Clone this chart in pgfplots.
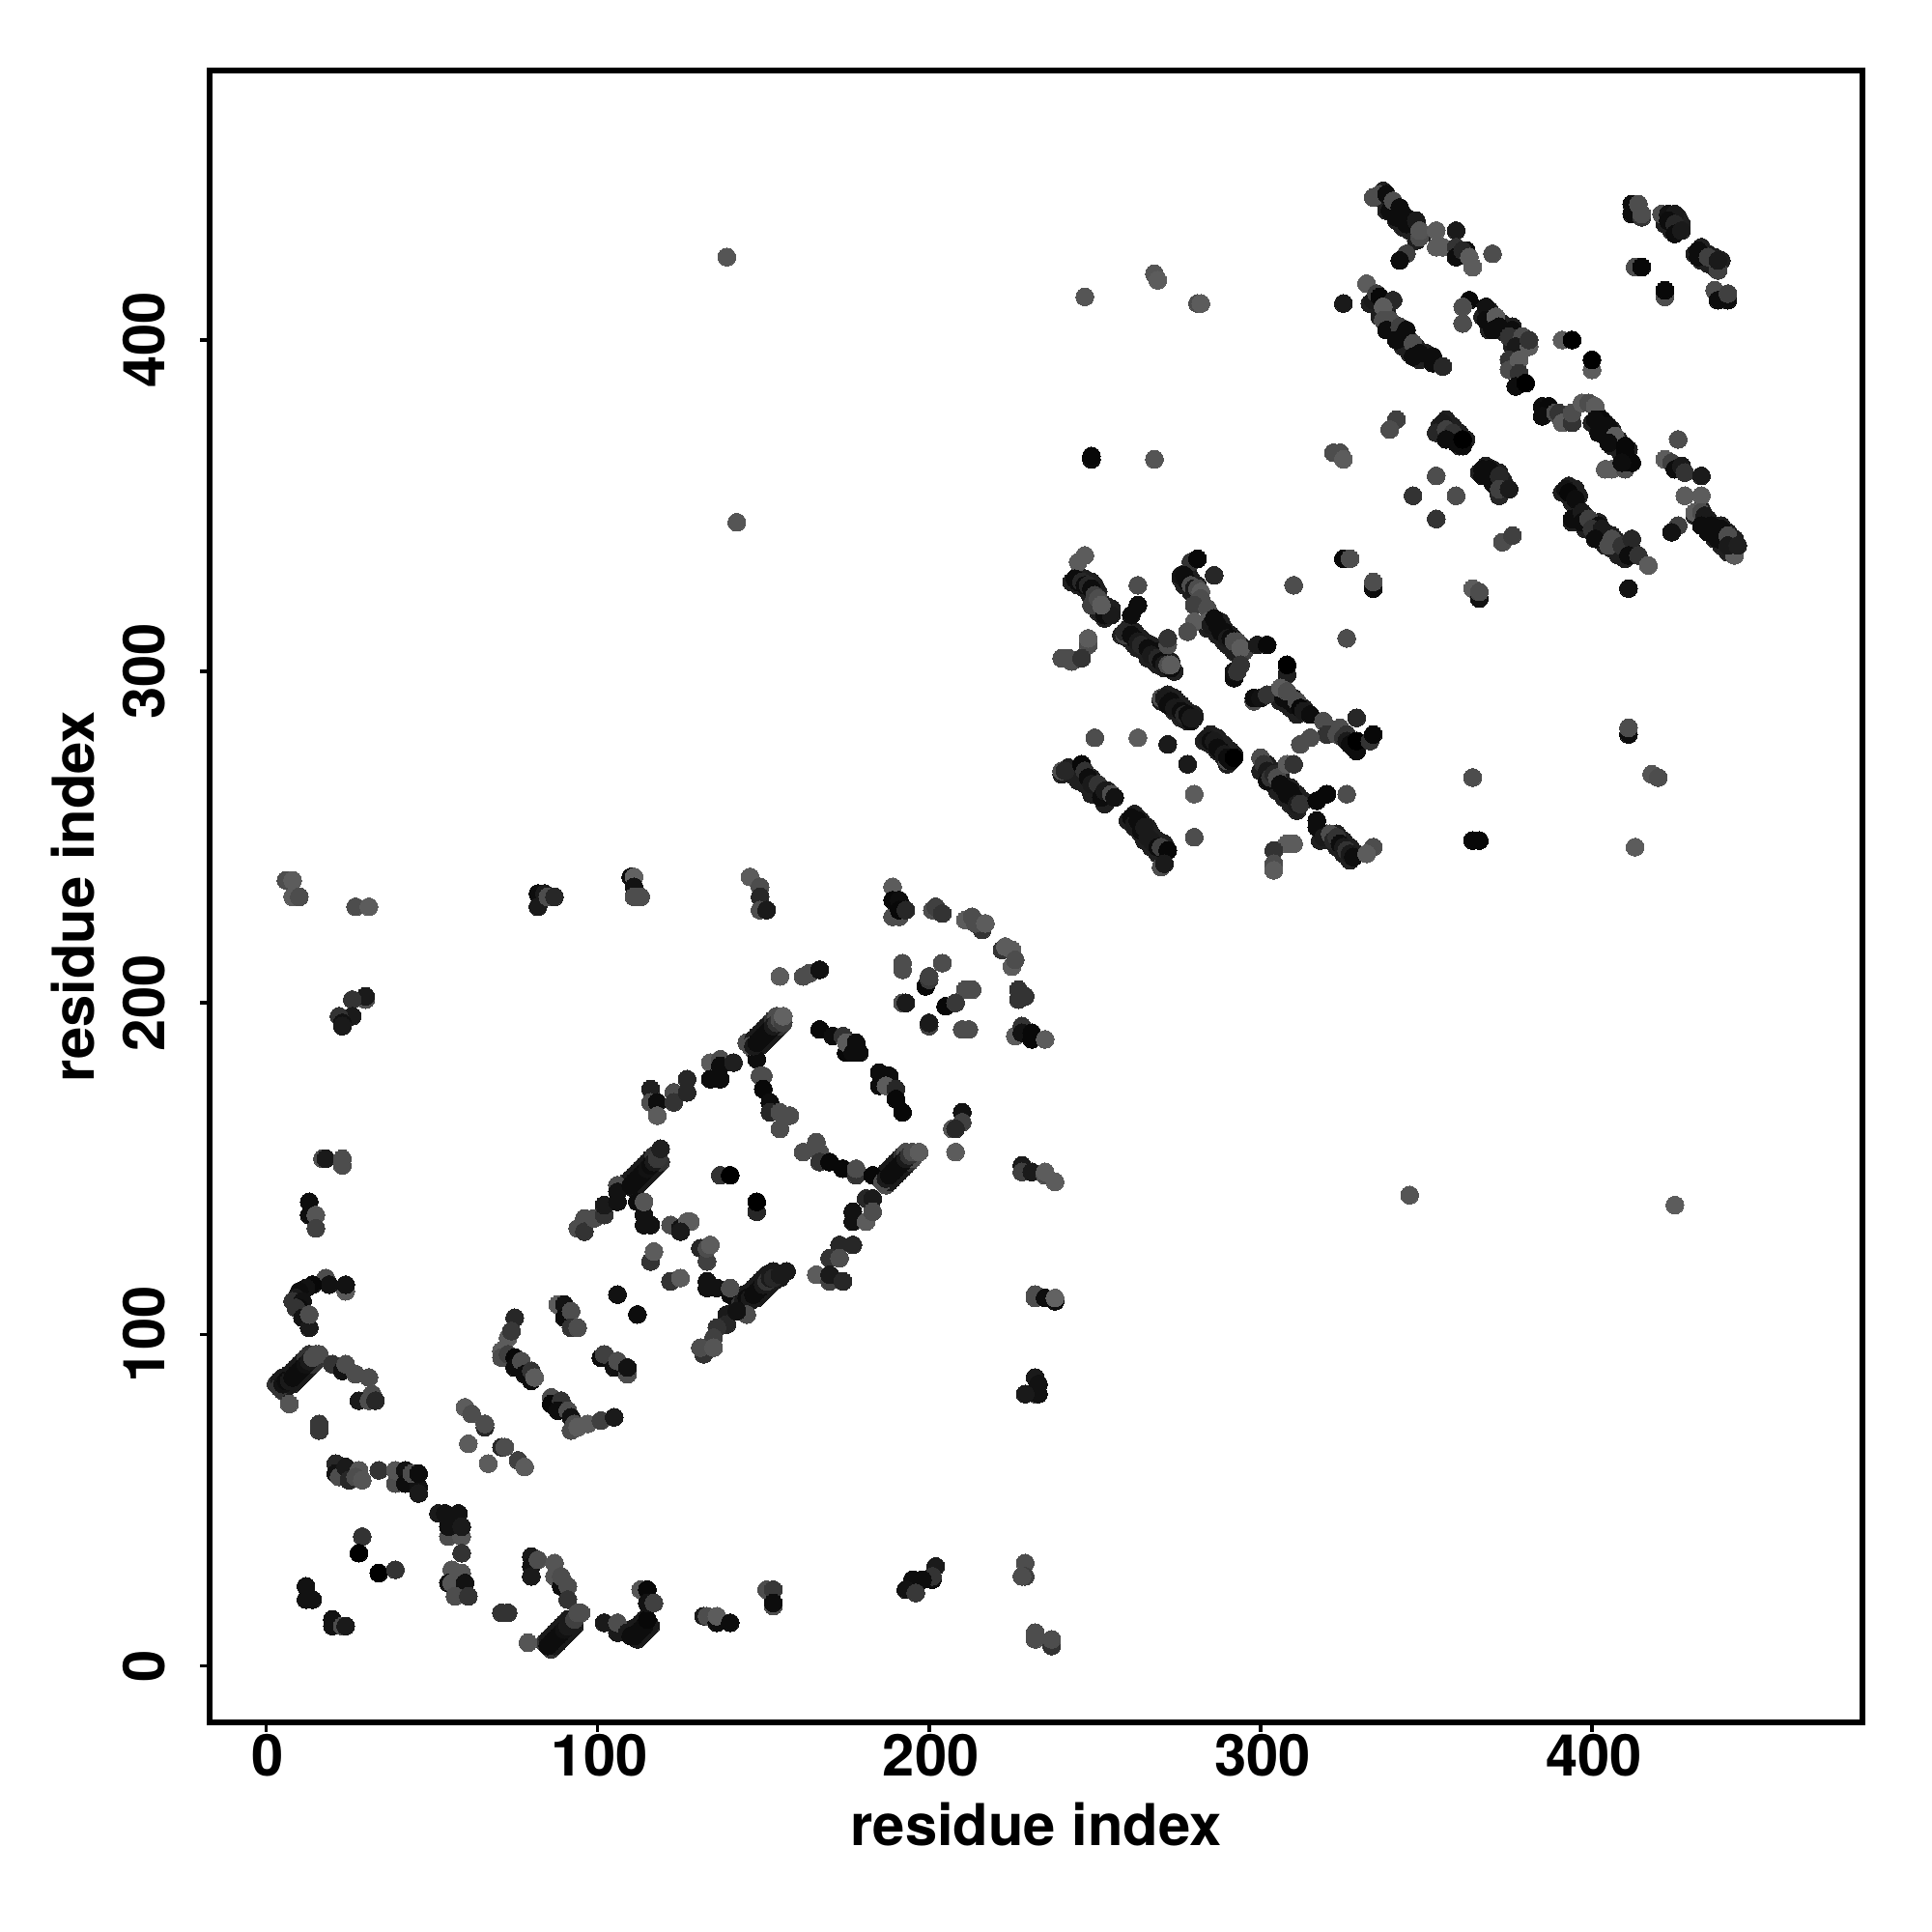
\documentclass[border=0pt]{standalone}
\usepackage{pgfplots}
\pgfplotsset{compat=1.18}
\usepackage{fontspec}
\setmainfont{TeX Gyre Heros}
\begin{document}
\begin{tikzpicture}
\useasboundingbox (0,0) rectangle (20cm,20cm);
\begin{axis}[
  at={(2.17cm,2.17cm)},anchor=south west,
  scale only axis,width=17.11cm,height=17.10cm,
  xmin=-17.05,xmax=481.6,ymin=-17.05,ymax=481.3,
  xtick={0,100,200,300,400},ytick={0,100,200,300,400},
  tick align=outside,tick pos=left,
  major tick length=0.1cm,
  axis line style={line width=0.06cm,black},
  every tick/.style={line width=0.035cm,black},
  /pgf/number format/assume math mode=true,
  tick label style={font=\fontsize{17}{20}\selectfont\bfseries},
  xticklabel style={yshift=0.10cm,xshift=0.02cm},
  yticklabel style={rotate=90,anchor=south,yshift=0.24cm},
  label style={font=\fontsize{17}{20}\selectfont\bfseries},
  xlabel={residue index},ylabel={residue index},
  xlabel style={at={(rel axis cs:0.5,0)},anchor=base,yshift=-1.275cm},
  ylabel style={at={(rel axis cs:0,0.5)},anchor=base,yshift=1.19cm},
  colormap={grays}{gray(0cm)=(0);gray(1cm)=(1)},
  point meta min=0,point meta max=1,
]
\addplot[scatter,only marks,mark=*,mark size=0.0925cm,scatter src=explicit,
  mark options={line width=0pt},
  scatter/use mapped color={draw=mapped color,fill=mapped color}]
 table[x=x,y=y,meta=g,row sep=\\]{
x y g\\
3 85 .2\\ 5 83 .2\\ 4 86 .1\\ 6 84 .1\\ 5 87 .1\\ 7 85 .1\\ 6 87 .1\\ 8 85 .1\\ 7 88 .1\\ 9 86 .1\\ 8 89 .1\\ 10 87 .1\\ 9 90 .1\\ 11 88 .1\\ 10 91 .1\\ 12 89 .1\\ 11 92 .1\\ 13 90 .1\\ 12 93 .2\\ 14 91 .2\\ 13 94 .2\\ 15 92 .2\\
84 7 .2\\ 86 5 .2\\ 85 8 .1\\ 87 6 .1\\ 86 9 .1\\ 88 7 .1\\ 87 10 .1\\ 89 8 .1\\ 88 11 .1\\ 90 9 .1\\ 89 12 .1\\ 91 10 .1\\ 90 13 .1\\ 92 11 .1\\ 91 14 .1\\ 93 12 .1\\
110 11 .1\\ 112 8 .1\\ 111 11 .1\\ 113 9 .1\\ 112 12 .1\\ 114 10 .1\\ 113 13 .1\\ 115 11 .1\\ 114 14 .1\\ 116 12 .1\\
109 146 .2\\ 111 144 .1\\ 110 147 .1\\ 112 145 .1\\ 111 148 .1\\ 113 146 .1\\ 112 149 .1\\ 114 147 .1\\ 113 150 .1\\ 115 148 .1\\ 114 151 .1\\ 116 149 .1\\ 115 152 .1\\ 117 150 .1\\ 116 153 .1\\ 118 151 .1\\ 117 154 .2\\ 119 152 .2\\
145 188 .3\\ 147 186 .3\\ 147 189 .1\\ 149 187 .1\\ 148 190 .1\\ 150 188 .1\\ 149 191 .1\\ 151 189 .1\\ 150 192 .1\\ 152 190 .1\\ 151 193 .1\\ 153 191 .1\\ 152 194 .1\\ 154 192 .1\\ 153 195 .2\\ 155 193 .2\\ 154 196 .3\\ 156 194 .3\\
185 147 .3\\ 187 145 .3\\ 186 148 .1\\ 188 146 .1\\ 187 149 .1\\ 189 147 .1\\ 188 150 .1\\ 190 148 .1\\ 189 151 .1\\ 191 149 .1\\ 190 152 .1\\ 192 150 .1\\ 191 153 .1\\ 193 151 .1\\ 192 154 .2\\ 194 152 .2\\ 193 155 .3\\ 195 153 .3\\
142 110 .1\\ 144 108 .2\\ 143 111 .1\\ 145 109 .1\\ 144 112 .1\\ 146 110 .1\\ 146 113 .1\\ 148 111 .1\\ 147 114 .1\\ 149 112 .1\\ 148 115 .1\\ 150 113 .1\\ 149 116 .1\\ 151 114 .1\\ 150 117 .1\\ 152 115 .1\\ 151 118 .1\\ 153 116 .1\\ 153 119 .1\\ 155 117 .1\\
245 329 .12\\ 243 327 .12\\ 247 328 .12\\ 245 326 .12\\ 249 327 .12\\ 247 325 .12\\ 250 326 .12\\ 248 324 .12\\ 251 324 .12\\ 249 322 .12\\ 253 320 .12\\ 251 318 .12\\ 255 319 .12\\ 253 316 .12\\
260 313 .12\\ 258 311 .12\\ 262 312 .12\\ 260 310 .12\\ 264 310 .12\\ 262 308 .12\\ 265 309 .12\\ 263 307 .12\\ 267 308 .12\\ 265 306 .12\\ 268 306 .12\\ 266 304 .12\\ 270 305 .12\\ 268 303 .12\\ 271 304 .12\\ 269 302 .12\\ 273 303 .12\\ 271 301 .12\\ 274 300 .12\\
278 330 .12\\ 276 328 .12\\ 279 328 .12\\ 277 326 .12\\ 281 326 .12\\ 279 324 .12\\
286 315 .12\\ 284 313 .12\\ 288 315 .12\\ 286 313 .12\\ 289 313 .12\\ 287 311 .12\\ 291 311 .12\\ 289 309 .12\\ 292 310 .12\\ 290 308 .12\\ 294 308 .12\\ 292 306 .12\\
308 293 .12\\ 306 291 .12\\ 310 292 .12\\ 308 290 .12\\ 311 291 .12\\ 309 289 .12\\ 313 289 .12\\ 311 287 .12\\
272 293 .12\\ 270 291 .12\\ 274 292 .12\\ 272 290 .12\\ 276 290 .12\\ 274 288 .12\\ 278 288 .12\\ 276 286 .12\\ 280 287 .12\\ 278 285 .12\\
285 281 .12\\ 283 279 .12\\ 287 280 .12\\ 285 278 .12\\ 289 278 .12\\ 287 276 .12\\ 291 276 .12\\ 289 274 .12\\ 292 275 .12\\ 290 272 .12\\
242 271 .12\\ 240 269 .12\\ 245 271 .12\\ 243 269 .12\\ 247 269 .12\\ 245 267 .12\\ 249 268 .12\\ 247 266 .12\\ 251 265 .12\\ 249 263 .12\\ 254 264 .12\\ 252 262 .12\\ 255 263 .12\\ 253 260 .12\\
262 257 .12\\ 260 255 .12\\ 264 255 .12\\ 262 253 .12\\ 266 253 .12\\ 264 251 .12\\ 267 251 .12\\ 265 249 .12\\ 269 249 .12\\ 267 247 .12\\ 271 248 .12\\ 269 245 .12\\
302 272 .12\\ 300 270 .12\\ 304 270 .12\\ 302 268 .12\\ 306 269 .12\\ 304 266 .12\\ 307 266 .12\\ 305 264 .12\\ 309 265 .12\\ 307 262 .12\\ 311 263 .12\\ 309 260 .12\\ 313 261 .12\\ 311 258 .12\\
320 251 .12\\ 318 249 .12\\ 323 251 .12\\ 321 249 .12\\ 325 249 .12\\ 323 247 .12\\ 327 247 .12\\ 325 245 .12\\ 329 245 .12\\ 327 243 .12\\
337 445 .12\\ 335 443 .12\\ 340 441 .12\\ 338 439 .12\\ 343 438 .12\\ 341 436 .12\\ 345 436 .12\\ 343 434 .12\\ 347 435 .12\\ 345 433 .12\\ 349 432 .12\\ 347 430 .12\\
335 413 .12\\ 333 411 .12\\ 338 409 .12\\ 336 407 .12\\ 340 405 .12\\ 338 403 .12\\ 343 403 .12\\ 341 401 .12\\ 345 400 .12\\ 343 398 .12\\ 347 398 .12\\ 345 396 .12\\ 350 396 .12\\ 348 394 .12\\
369 409 .12\\ 367 407 .12\\ 371 405 .12\\ 369 403 .12\\ 373 405 .12\\ 371 403 .12\\ 376 404 .12\\ 374 402 .12\\ 378 400 .12\\ 376 398 .12\\
402 377 .12\\ 400 375 .12\\ 404 375 .12\\ 402 373 .12\\ 406 373 .12\\ 404 371 .12\\ 408 370 .12\\ 406 368 .12\\ 411 367 .12\\ 409 365 .12\\
433 349 .12\\ 431 347 .12\\ 435 346 .12\\ 433 344 .12\\ 437 344 .12\\ 435 342 .12\\ 439 344 .12\\ 437 340 .12\\ 441 342 .12\\ 439 338 .12\\ 443 340 .12\\ 441 336 .12\\
393 356 .12\\ 391 354 .12\\ 395 355 .12\\ 393 353 .12\\ 396 353 .12\\ 394 351 .12\\ 396 347 .12\\ 394 345 .12\\ 398 347 .12\\ 396 345 .12\\ 400 345 .12\\ 398 343 .12\\ 402 345 .12\\ 400 342 .12\\ 404 342 .12\\ 402 340 .12\\ 406 341 .12\\ 404 338 .12\\ 408 339 .12\\ 406 337 .12\\ 410 338 .12\\ 408 335 .12\\ 412 337 .12\\ 410 334 .12\\
356 376 .12\\ 354 374 .12\\ 358 374 .12\\ 356 372 .12\\ 360 372 .12\\ 358 370 .12\\ 362 370 .12\\ 360 368 .12\\
368 362 .12\\ 366 360 .12\\ 370 361 .12\\ 368 359 .12\\ 372 360 .12\\ 370 358 .12\\ 373 358 .12\\ 371 356 .12\\ 374 356 .12\\ 372 354 .12\\
426 437 .12\\ 422 435 .12\\ 427 435 .12\\ 424 433 .12\\ 433 428 .12\\ 431 426 .12\\ 435 426 .12\\ 433 424 .12\\ 437 425 .12\\ 435 423 .12\\ 439 424 .12\\ 437 422 .12\\
24 113 .35\\ 24 115 .07\\ 18 117 .3\\ 19 115 .07\\ 14 115 .03\\ 12 114 .07\\ 10 113 .05\\ 9 111 .1\\ 8 110 .2\\ 11 110 .07\\ 10 108 .05\\ 9 108 .2\\ 11 105 .07\\ 13 102 .1\\ 13 106 .3\\
4 84 .2\\ 5 85 .07\\ 6 86 .05\\ 7 86 .1\\ 8 87 .05\\ 9 88 .05\\ 10 89 .05\\ 11 90 .05\\ 12 91 .07\\ 13 92 .1\\ 14 93 .3\\ 15 94 .3\\ 16 94 .3\\ 20 91 .2\\ 23 89 .07\\ 24 91 .3\\ 27 88 .3\\ 31 87 .3\\ 32 82 .3\\ 28 80 .1\\ 31 80 .3\\ 33 80 .15\\ 7 79 .33\\ 16 73 .22\\ 16 71 .22\\
21 61 .15\\ 21 58 .07\\ 22 57 .3\\ 24 60 .1\\ 25 56 .15\\ 28 59 .33\\ 27 57 .3\\ 29 56 .33\\ 34 59 .2\\ 39 55 .3\\ 39 59 .33\\ 42 59 .07\\ 42 55 .05\\ 46 54 .07\\ 46 52 .1\\ 44 58 .3\\ 46 58 .05\\
52 46 .1\\ 54 46 .07\\ 58 46 .07\\ 55 39 .3\\ 59 39 .33\\ 55 42 .07\\ 59 42 .1\\ 59 34 .2\\ 56 29 .33\\ 59 28 .33\\ 55 25 .07\\ 56 25 .33\\ 60 25 .07\\ 57 21 .3\\ 61 21 .2\\
29 39 .2\\ 28 34 .0\\ 34 28 .0\\ 39 29 .2\\ 12 24 .07\\ 12 20 .07\\ 14 20 .07\\ 20 14 .07\\ 20 12 .07\\ 23 12 .3\\ 24 12 .1\\ 71 16 .2\\ 73 16 .2\\
80 33 .1\\ 80 30 .07\\ 80 27 .1\\ 82 32 .3\\ 87 31 .33\\ 87 27 .33\\ 89 24 .05\\ 89 27 .3\\ 91 24 .3\\ 91 20 .2\\ 85 6 .05\\ 86 7 .05\\ 87 8 .05\\ 88 9 .05\\ 89 10 .05\\ 90 11 .07\\ 91 12 .1\\ 92 13 .1\\ 93 14 .25\\ 94 16 .3\\ 95 16 .3\\ 79 7 .33\\
102 13 .1\\ 106 10 .1\\ 106 13 .3\\ 109 10 .1\\ 110 9 .05\\ 111 9 .05\\ 112 10 .05\\ 113 11 .05\\ 114 12 .05\\ 115 14 .03\\ 113 23 .33\\ 115 23 .03\\ 115 19 .07\\ 117 19 .25\\ 106 112 .07\\ 112 106 .05\\ 122 116 .2\\ 125 117 .36\\ 116 122 .2\\ 117 125 .36\\
60 78 .36\\ 62 76 .3\\ 66 72 .15\\ 66 73 .3\\ 61 67 .36\\ 71 66 .15\\ 72 66 .3\\ 76 62 .25\\ 78 60 .36\\ 67 61 .36\\
75 105 .15\\ 73 99 .36\\ 74 101 .22\\ 71 95 .36\\ 71 93 .3\\ 73 94 .25\\ 75 93 .03\\ 75 90 .05\\ 77 92 .3\\ 78 88 .05\\ 80 86 .05\\ 80 89 .2\\ 81 87 .36\\
88 109 .36\\ 90 109 .07\\ 90 105 .05\\ 92 107 .3\\ 92 102 .2\\ 94 102 .3\\ 101 93 .05\\ 102 94 .25\\ 105 90 .07\\ 106 92 .3\\ 109 88 .3\\ 109 90 .07\\
86 81 .3\\ 86 79 .03\\ 89 80 .2\\ 88 77 .05\\ 91 77 .3\\ 92 75 .07\\ 92 71 .3\\ 93 73 .3\\ 94 72 .36\\ 97 73 .36\\ 101 74 .25\\ 105 75 .1\\
6 237 .3\\ 8 237 .36\\ 8 232 .36\\ 10 232 .3\\ 27 229 .3\\ 31 229 .36\\ 82 233 .05\\ 82 229 .1\\ 84 233 .1\\ 85 232 .3\\ 87 232 .15\\ 110 238 .05\\ 111 238 .38\\ 111 235 .07\\ 111 232 .3\\ 113 232 .3\\
30 201 .3\\ 30 202 .1\\ 26 201 .2\\ 26 196 .1\\ 22 196 .2\\ 23 194 .07\\ 23 193 .1\\
17 153 .3\\ 18 153 .1\\ 23 151 .3\\ 23 153 .3\\ 13 140 .05\\ 13 136 .05\\ 15 136 .33\\ 15 132 .25\\
96 135 .3\\ 94 132 .3\\ 96 131 .2\\ 99 135 .3\\ 102 136 .2\\ 102 139 .1\\ 106 145 .3\\ 106 143 .07\\ 106 140 .07\\ 110 145 .05\\ 111 146 .05\\ 112 147 .05\\ 113 148 .05\\ 114 149 .05\\ 115 150 .07\\ 116 151 .05\\ 117 152 .1\\ 118 153 .22\\ 119 156 .12\\ 112 140 .05\\ 114 136 .07\\ 114 133 .07\\ 116 133 .07\\ 114 140 .33\\
122 133 .3\\ 125 132 .07\\ 125 131 .1\\ 127 134 .36\\
116 174 .12\\ 116 170 .3\\ 118 170 .05\\ 118 166 .36\\ 123 173 .3\\ 123 170 .2\\ 127 177 .15\\ 127 173 .15\\
155 208 .36\\ 162 208 .3\\ 164 209 .3\\ 167 210 .07\\
148 183 .05\\ 149 178 .3\\ 150 178 .3\\ 150 174 .03\\ 152 170 .05\\ 152 167 .15\\ 155 167 .3\\ 158 166 .3\\ 155 162 .3\\
146 187 .3\\ 147 187 .1\\ 148 188 .05\\ 149 189 .05\\ 150 190 .05\\ 151 191 .05\\ 152 192 .05\\ 153 193 .1\\ 154 194 .2\\ 155 195 .3\\ 156 194 .25\\ 156 196 .38\\
134 182 .36\\ 137 183 .3\\ 134 177 .05\\ 137 177 .05\\ 137 181 .05\\ 141 182 .12\\
167 192 .03\\ 171 190 .05\\ 174 190 .2\\ 175 185 .03\\ 175 188 .36\\ 178 188 .05\\ 179 185 .05\\ 177 185 .05\\
185 179 .05\\ 188 178 .05\\ 185 175 .05\\ 187 175 .36\\ 190 174 .15\\ 190 171 .03\\ 192 167 .03\\
162 155 .3\\ 166 158 .3\\ 167 155 .3\\ 167 152 .2\\ 170 152 .03\\ 174 150 .03\\ 178 148 .2\\ 178 150 .3\\ 183 148 .03\\
186 146 .3\\ 187 147 .1\\ 188 148 .05\\ 189 149 .05\\ 190 150 .05\\ 191 151 .05\\ 192 152 .05\\ 193 153 .1\\ 194 154 .2\\ 195 155 .3\\ 197 155 .36\\
137 148 .2\\ 140 148 .0\\ 148 137 .15\\ 148 140 .0\\
210 167 .07\\ 210 164 .25\\ 207 162 .33\\ 208 162 .15\\ 208 155 .36\\
181 141 .15\\ 183 141 .1\\ 177 137 .07\\ 177 134 .07\\ 181 134 .36\\ 183 137 .3\\ 173 127 .15\\ 177 127 .15\\ 170 123 .2\\ 173 123 .3\\ 166 118 .36\\ 170 116 .25\\ 170 118 .1\\ 174 116 .15\\
133 116 .07\\ 133 114 .07\\ 136 114 .07\\ 140 112 .05\\ 140 114 .3\\
143 109 .2\\ 144 110 .1\\ 145 111 .05\\ 146 111 .1\\ 147 112 .05\\ 148 113 .05\\ 149 114 .05\\ 150 115 .1\\ 151 116 .2\\ 152 117 .1\\ 153 117 .15\\ 155 118 .1\\ 157 119 .1\\
139 106 .1\\ 139 103 .15\\ 145 106 .3\\ 142 107 .07\\ 136 102 .2\\ 135 99 .25\\ 132 94 .2\\ 131 96 .3\\ 135 96 .33\\
128 134 .36\\ 125 131 .1\\ 131 126 .15\\ 133 122 .25\\ 133 126 .3\\ 134 127 .36\\
232 112 .3\\ 232 111 .3\\ 235 111 .05\\ 238 110 .05\\ 238 111 .38\\ 232 82 .3\\ 232 87 .1\\ 233 85 .07\\ 233 82 .07\\ 229 82 .1\\ 229 31 .3\\ 229 27 .25\\ 228 27 .3\\ 232 10 .3\\ 232 8 .3\\ 237 6 .2\\ 237 8 .3\\
202 30 .1\\ 201 26 .05\\ 201 27 .2\\ 195 26 .05\\ 198 26 .05\\ 193 23 .07\\ 196 22 .22\\ 151 23 .3\\ 153 23 .22\\ 153 18 .3\\ 153 19 .05\\ 132 15 .1\\ 133 15 .3\\ 136 13 .05\\ 136 15 .36\\ 140 13 .05\\
146 238 .36\\ 149 235 .07\\ 149 235 .3\\ 149 232 .15\\ 149 228 .3\\ 151 228 .1\\ 189 235 .36\\ 189 226 .3\\ 191 226 .3\\ 189 231 .03\\ 191 231 .05\\ 191 228 .03\\ 193 228 .15\\ 201 228 .3\\ 202 229 .25\\ 204 227 .2\\
211 225 .36\\ 213 226 .3\\ 216 222 .2\\ 214 224 .3\\ 217 224 .36\\ 222 216 .2\\ 223 217 .36\\ 225 216 .36\\ 225 211 .36\\ 226 213 .3\\ 227 204 .2\\ 227 201 .2\\ 229 202 .2\\ 226 190 .36\\ 228 193 .2\\ 228 191 .07\\ 231 191 .03\\ 231 189 .03\\ 235 189 .36\\
192 212 .3\\ 192 210 .3\\ 204 212 .3\\ 199 205 .03\\ 200 207 .22\\ 200 208 .25\\ 211 204 .3\\ 213 204 .3\\ 205 199 .03\\ 208 200 .22\\ 192 200 .3\\ 193 200 .1\\ 200 193 .25\\ 200 194 .1\\ 210 192 .3\\ 212 192 .3\\
228 151 .1\\ 228 149 .25\\ 231 149 .1\\ 235 148 .3\\ 235 149 .36\\ 238 146 .36\\
247 335 .36\\ 245 333 .36\\ 244 328 .05\\ 245 327 .05\\ 246 327 .15\\ 247 326 .05\\ 248 326 .15\\ 249 320 .25\\ 249 325 .05\\ 253 317 .05\\ 255 317 .1\\ 250 323 .25\\ 251 322 .3\\ 252 320 .36\\
263 326 .3\\ 263 320 .05\\ 261 317 .05\\ 259 311 .25\\ 259 312 .15\\ 261 311 .05\\ 262 310 .05\\ 263 309 .1\\ 264 308 .15\\ 266 307 .05\\ 268 306 .05\\ 267 305 .1\\ 269 304 .15\\ 270 303 .05\\ 271 302 .1\\ 273 301 .05\\ 272 302 .3\\ 273 302 .36\\ 272 308 .3\\ 272 310 .2\\
248 308 .3\\ 248 310 .36\\ 240 304 .3\\ 242 304 .3\\ 243 303 .3\\ 246 304 .2\\
279 333 .2\\ 281 334 .03\\ 286 329 .15\\ 276 329 .07\\ 277 329 .05\\ 278 327 .05\\ 279 326 .3\\ 280 325 .1\\ 281 325 .3\\ 282 324 .36\\ 282 322 .3\\ 280 320 .25\\ 284 319 .3\\ 280 315 .36\\ 278 312 .3\\ 284 315 .36\\
285 314 .1\\ 286 316 .05\\ 287 314 .05\\ 288 312 .05\\ 289 312 .05\\ 290 310 .1\\ 291 310 .05\\ 292 309 .3\\ 293 309 .3\\ 295 306 .25\\ 294 307 .36\\ 299 308 .1\\ 302 308 .03\\ 292 298 .05\\ 292 300 .07\\ 293 300 .2\\ 294 302 .2\\ 308 299 .12\\ 308 302 .0\\
298 291 .3\\ 298 292 .05\\ 300 292 .07\\ 302 293 .2\\ 307 292 .05\\ 309 291 .05\\ 310 290 .05\\ 306 295 .36\\ 308 294 .3\\ 311 291 .3\\ 312 289 .03\\ 313 288 .1\\ 315 287 .05\\ 319 285 .3\\ 320 281 .2\\ 324 283 .3\\ 315 280 .3\\ 312 278 .3\\ 329 286 .15\\ 323 281 .3\\ 326 281 .2\\ 325 280 .2\\ 326 279 .1\\ 327 278 .05\\ 328 277 .05\\ 329 276 .05\\ 329 279 .0\\ 333 279 .2\\ 334 281 .03\\
326 310 .3\\ 310 326 .3\\ 325 334 .03\\ 327 334 .3\\ 334 325 .05\\ 334 327 .3\\
270 292 .3\\ 271 292 .1\\ 272 290 .05\\ 273 291 .05\\ 274 289 .1\\ 275 289 .1\\ 276 288 .05\\ 277 287 .15\\ 278 287 .05\\ 279 285 .05\\ 279 286 .1\\ 280 286 .1\\
250 280 .3\\ 263 280 .36\\ 272 278 .1\\ 278 272 .1\\ 280 263 .36\\ 280 250 .3\\
284 280 .1\\ 285 279 .05\\ 286 279 .1\\ 287 277 .05\\ 288 276 .05\\ 289 275 .1\\ 290 273 .3\\ 290 274 .05\\ 291 273 .05\\ 292 274 .0\\
300 274 .3\\ 301 272 .2\\ 302 270 .1\\ 302 267 .05\\ 303 268 .2\\ 304 269 .15\\ 305 268 .3\\ 306 266 .05\\ 307 265 .05\\ 308 263 .05\\ 309 264 .05\\ 310 262 .05\\ 311 260 .1\\ 312 260 .2\\ 308 272 .36\\ 310 272 .2\\ 317 261 .03\\ 320 263 .03\\ 326 263 .3\\
317 253 .05\\ 317 255 .05\\ 319 250 .1\\ 321 251 .3\\ 322 249 .15\\ 323 250 .2\\ 324 248 .05\\ 325 247 .1\\ 326 246 .2\\ 327 245 .1\\ 328 244 .05\\ 334 247 .3\\ 332 245 .36\\
310 248 .36\\ 308 248 .36\\ 304 246 .2\\ 304 242 .3\\ 304 240 .36\\
240 270 .3\\ 241 270 .15\\ 246 272 .03\\ 247 270 .2\\ 248 268 .05\\ 249 266 .1\\ 251 266 .2\\ 252 262 .05\\ 253 264 .1\\ 255 263 .3\\ 256 262 .07\\
261 256 .05\\ 262 254 .1\\ 263 255 .05\\ 264 252 .05\\ 265 253 .1\\ 266 250 .1\\ 267 249 .1\\ 268 248 .1\\ 269 247 .05\\ 270 247 .25\\ 272 246 .03\\ 270 241 .3\\ 271 242 .1\\
364 325 .36\\ 366 322 .07\\ 366 324 .3\\ 411 325 .07\\ 411 281 .05\\ 411 283 .3\\ 364 268 .3\\ 364 249 .03\\ 366 249 .03\\ 413 247 .36\\ 418 269 .33\\ 420 268 .3\\
345 142 .33\\ 425 139 .36\\ 139 425 .33\\ 142 345 .33\\ 247 413 .33\\ 268 420 .33\\ 269 418 .36\\ 281 411 .3\\ 282 411 .36\\ 249 364 .05\\ 249 365 .03\\ 268 364 .33\\
334 443 .3\\ 336 444 .3\\ 338 444 .05\\ 339 439 .05\\ 340 442 .3\\ 342 440 .05\\ 341 437 .05\\ 344 437 .05\\ 344 435 .05\\ 347 436 .1\\ 348 431 .3\\ 348 433 .33\\ 353 433 .36\\ 353 428 .36\\ 359 433 .1\\ 355 428 .36\\ 344 426 .25\\ 342 424 .05\\
359 428 .2\\ 362 427 .05\\ 359 425 .05\\ 361 427 .15\\ 363 425 .36\\ 364 422 .36\\ 370 426 .3\\
332 417 .36\\ 325 411 .1\\ 334 412 .1\\ 335 414 .25\\ 336 413 .03\\ 340 412 .15\\ 337 410 .36\\ 337 406 .3\\ 339 406 .3\\ 338 403 .05\\ 342 404 .25\\ 344 403 .05\\ 341 400 .05\\ 346 399 .3\\ 346 395 .05\\ 348 396 .05\\ 352 395 .05\\ 352 393 .05\\ 355 392 .15\\
363 412 .03\\ 361 410 .3\\ 361 405 .3\\ 368 410 .07\\ 368 406 .05\\ 371 407 .36\\ 372 404 .05\\ 370 403 .05\\ 376 403 .05\\ 375 401 .2\\ 379 401 .3\\ 377 398 .1\\ 381 398 .36\\ 381 400 .2\\
391 400 .36\\ 394 400 .0\\ 400 391 .36\\ 400 394 .0\\
375 394 .2\\ 375 391 .3\\ 378 394 .36\\ 378 390 .2\\ 377 386 .05\\ 380 387 .0\\
385 380 .05\\ 387 380 .03\\ 385 377 .05\\ 389 378 .3\\ 390 378 .2\\ 391 375 .36\\ 394 375 .2\\ 394 378 .3\\ 397 381 .36\\ 399 381 .3\\ 401 380 .36\\ 403 376 .03\\ 401 376 .05\\ 405 374 .05\\ 402 372 .05\\ 407 371 .36\\ 404 361 .36\\ 406 361 .36\\ 410 361 .3\\ 405 369 .05\\ 410 368 .03\\ 410 366 .03\\ 412 363 .03\\ 409 363 .05\\
426 370 .3\\ 422 364 .36\\ 424 363 .25\\ 425 361 .05\\ 427 362 .1\\ 428 360 .2\\ 433 359 .1\\ 428 353 .36\\ 433 353 .36\\
431 348 .36\\ 433 348 .3\\ 434 347 .1\\ 433 344 .05\\ 436 344 .05\\ 435 342 .05\\ 439 343 .05\\ 438 340 .05\\ 441 341 .3\\ 443 335 .36\\ 441 338 .1\\ 444 338 .12\\ 426 344 .25\\ 424 342 .07\\
392 355 .07\\ 393 354 .03\\ 395 352 .05\\ 394 346 .05\\ 397 348 .1\\ 397 345 .05\\ 399 346 .25\\ 402 344 .05\\ 400 343 .2\\ 403 343 .1\\ 401 340 .05\\ 405 338 .3\\ 406 340 .3\\ 409 338 .2\\ 412 340 .15\\ 411 335 .05\\ 414 335 .2\\ 417 332 .36\\
353 359 .3\\ 346 353 .2\\ 359 353 .3\\ 353 346 .2\\ 373 339 .3\\ 376 341 .25\\
355 375 .1\\ 353 372 .15\\ 356 373 .25\\ 358 372 .2\\ 356 370 .05\\ 359 369 .05\\ 361 368 .05\\ 361 370 .0\\
367 361 .05\\ 369 361 .05\\ 367 359 .05\\ 370 357 .05\\ 372 359 .15\\ 372 353 .15\\ 372 355 .25\\ 375 355 .1\\ 341 376 .25\\ 339 373 .3\\ 322 366 .3\\ 324 366 .3\\ 325 364 .36\\
412 441 .05\\ 412 438 .05\\ 414 441 .3\\ 415 437 .2\\ 415 438 .3\\ 421 438 .3\\ 423 438 .07\\ 425 438 .1\\ 423 436 .05\\ 425 435 .15\\ 425 432 .05\\ 427 433 .1\\ 432 427 .05\\ 432 425 .05\\ 435 425 .25\\ 438 421 .25\\ 438 424 .1\\
413 422 .3\\ 415 422 .03\\ 422 413 .3\\ 422 415 .03\\ 437 415 .3\\ 438 412 .05\\ 441 412 .05\\ 441 414 .25\\
};
\end{axis}
\end{tikzpicture}
\end{document}
